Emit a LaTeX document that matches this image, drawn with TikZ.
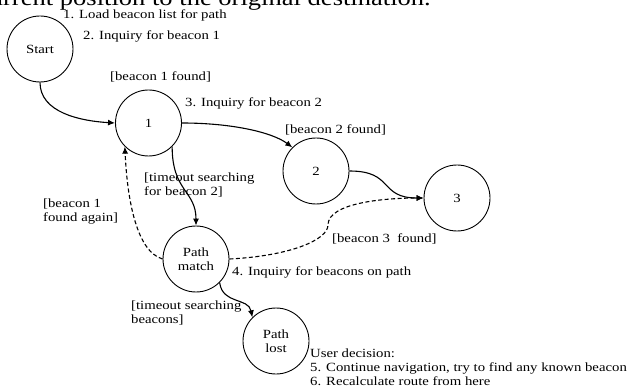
\documentclass[tikz,border=0pt]{standalone}
\usepackage{fontspec}
\setmainfont{Liberation Serif}[FakeStretch=1.18]
\usetikzlibrary{arrows.meta}
\tikzset{
  state/.style={draw, circle, line width=0.9pt, minimum size=66pt, inner sep=0pt, align=center, font=\fontsize{12.5}{14}\selectfont},
  lbl/.style={anchor=west, inner sep=0pt, align=left, font=\fontsize{12.5}{14}\selectfont},
  conn/.style={line width=1.1pt, -{Latex[length=7pt,width=6pt]}},
  dconn/.style={conn, dashed, dash pattern=on 4pt off 2.5pt}
}
\begin{document}
\begin{tikzpicture}[x=1pt,y=-1pt]
\useasboundingbox (0,0) rectangle (629,390);
\begin{scope}
\clip (0,0) rectangle (629,390);
\node[anchor=base east, inner sep=0pt, font=\fontsize{22.5}{24}\selectfont] (top) at (431,6) {current position to the original destination.};
\end{scope}
\node[state] (start) at (40,49) {Start};
\node[state] (s1) at (148.5,123) {1};
\node[state] (s2) at (316,171) {2};
\node[state] (s3) at (457,198) {3};
\node[state] (pm) at (196,259) {Path\\match};
\node[state] (pl) at (276,341) {Path\\lost};

\node[lbl] (t1) at (63,15) {1. Load beacon list for path};
\node[lbl] (t2) at (83,36) {2. Inquiry for beacon 1};
\node[lbl] (t3) at (110,77) {[beacon 1 found]};
\node[lbl] (t4) at (185,103) {3. Inquiry for beacon 2};
\node[lbl] (t5) at (285,130) {[beacon 2 found]};
\node[lbl] (t6) at (144,185) {[timeout searching\\for beacon 2]};
\node[lbl] (t7) at (43,211.5) {[beacon 1\\found again]};
\node[lbl] (t8) at (332,239) {[beacon 3\ \ found]};
\node[lbl] (t9) at (232,272) {4. Inquiry for beacons on path};
\node[lbl] (t10) at (131,313) {[timeout searching\\beacons]};
\node[lbl] (t11) at (310,367) {User decision:\\5. Continue navigation, try to find any known beacon\\6. Recalculate route from here};

\draw[conn] (start.south) .. controls +(0,30) and +(-35,-2) .. (s1.west);
\draw[conn] (s1.east) .. controls +(50,0) and +(-20,-15) .. (s2.north west);
\draw[conn] (s2.east) .. controls +(45,0) and +(-45,0) .. (s3.west);
\draw[conn] (s1.south east) .. controls +(0,45) and +(0,-35) .. (pm.north);
\draw[dconn] (pm.west) .. controls +(-28,-8) and +(2,45) .. (s1.south west);
\draw[dconn] (pm.east) .. controls +(60,-3) and +(0,15) .. (328,225) .. controls +(0,-22) and +(-40,0) .. (s3.west);
\draw[conn] (pm.south east) .. controls +(3,22) and +(-4,-20) .. (pl.north west);
\end{tikzpicture}
\end{document}
